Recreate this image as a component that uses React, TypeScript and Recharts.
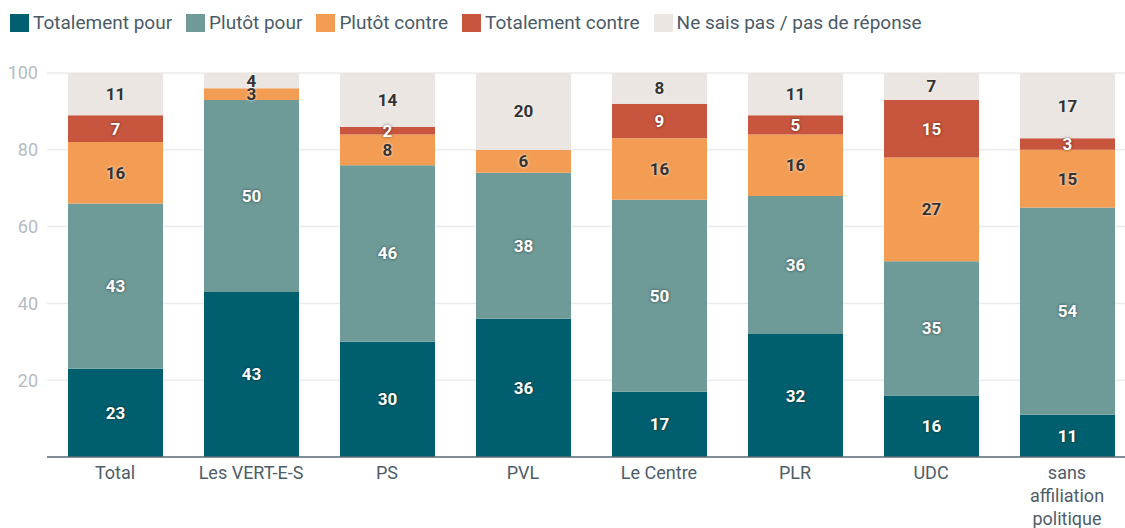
import React from 'react';
import { BarChart, Bar, XAxis, YAxis, CartesianGrid, LabelList } from 'recharts';

const categories = ['Total', 'Les VERT-E-S', 'PS', 'PVL', 'Le Centre', 'PLR', 'UDC', 'sans affiliation politique'];
const totalementPour = [23, 43, 30, 36, 17, 32, 16, 11];
const plutotPour = [43, 50, 46, 38, 50, 36, 35, 54];
const plutotContre = [16, 3, 8, 6, 16, 16, 27, 15];
const totalementContre = [7, 0, 2, 0, 9, 5, 15, 3];
const neSaisPas = [11, 4, 14, 20, 8, 11, 7, 17];
const yTicks = [20, 40, 60, 80, 100];

const series = [
    { key: 'tp', name: 'Totalement pour', color: '#005f6e', values: totalementPour, labelColor: '#ffffff' },
    { key: 'pp', name: 'Plutôt pour', color: '#6e9a98', values: plutotPour, labelColor: '#ffffff' },
    { key: 'pc', name: 'Plutôt contre', color: '#f39c53', values: plutotContre, labelColor: '#333333' },
    { key: 'tc', name: 'Totalement contre', color: '#c8553d', values: totalementContre, labelColor: '#ffffff' },
    { key: 'ns', name: 'Ne sais pas / pas de réponse', color: '#ebe6e2', values: neSaisPas, labelColor: '#333333' },
];

const data = categories.map((name, i) => {
    const row: any = { name };
    series.forEach((s) => { row[s.key] = s.values[i]; });
    return row;
});

const FONT = 'Roboto, sans-serif';

const makeLabel = (color: string) => (props: any) => {
    const { x, y, width, height, value } = props;
    if (!value) return null;
    const shadow = color === '#ffffff' ? '0 0 3px rgba(0,0,0,0.55)' : '0 0 3px rgba(255,255,255,0.9)';
    return (
        <text
            x={Number(x) + Number(width) / 2}
            y={Number(y) + Number(height) / 2}
            textAnchor="middle"
            dominantBaseline="central"
            fill={color}
            style={{ fontFamily: FONT, fontSize: 17, fontWeight: 700, textShadow: shadow }}
        >
            {value}
        </text>
    );
};

// long labels go one word per line
const XTick = (props: any) => {
    const { x, y, payload } = props;
    const words = String(payload.value).split(' ');
    const lines = words.length > 2 ? words : [payload.value];
    return (
        <g>
            {lines.map((line: string, i: number) => (
                <text
                    key={i}
                    x={x}
                    y={y + 14 + i * 23}
                    textAnchor="middle"
                    fill="#4e5d6a"
                    style={{ fontFamily: FONT, fontSize: 18 }}
                >
                    {line}
                </text>
            ))}
        </g>
    );
};

const LegendRow = () => (
    <div style={{ position: 'absolute', left: 10, top: 13, display: 'flex', fontFamily: FONT, fontSize: 19, color: '#4b5a67', lineHeight: '20px', whiteSpace: 'nowrap' }}>
        {series.map((s) => (
            <div key={s.key} style={{ display: 'flex', alignItems: 'center', marginRight: 14 }}>
                <span style={{ width: 19, height: 18, background: s.color, marginRight: 4, display: 'inline-block' }} />
                <span>{s.name}</span>
            </div>
        ))}
    </div>
);

const App = () => {
    return (
        <div style={{ position: 'absolute', left: 0, top: 0, width: 1125, height: 528, overflow: 'hidden', background: '#fff' }}>
            <LegendRow />
            <BarChart
                width={1140}
                height={528}
                data={data}
                margin={{ top: 73, right: 5, bottom: 0, left: 0 }}
                barSize={95}
            >
                <CartesianGrid vertical={false} stroke="#ebebeb" strokeWidth={1.5} />
                <YAxis
                    domain={[0, 100]}
                    ticks={yTicks}
                    width={47}
                    axisLine={false}
                    tickLine={false}
                    tickMargin={3}
                    tick={{ fill: '#b5bcc2', fontSize: 18, fontFamily: FONT }}
                />
                <XAxis
                    dataKey="name"
                    height={71}
                    axisLine={{ stroke: '#5d6d79', strokeWidth: 1.5 }}
                    tickLine={false}
                    interval={0}
                    tick={<XTick />}
                />
                {series.map((s) => (
                    <Bar key={s.key} dataKey={s.key} name={s.name} stackId="a" fill={s.color} isAnimationActive={false}>
                        <LabelList dataKey={s.key} content={makeLabel(s.labelColor)} />
                    </Bar>
                ))}
            </BarChart>
        </div>
    );
};

export default App;
